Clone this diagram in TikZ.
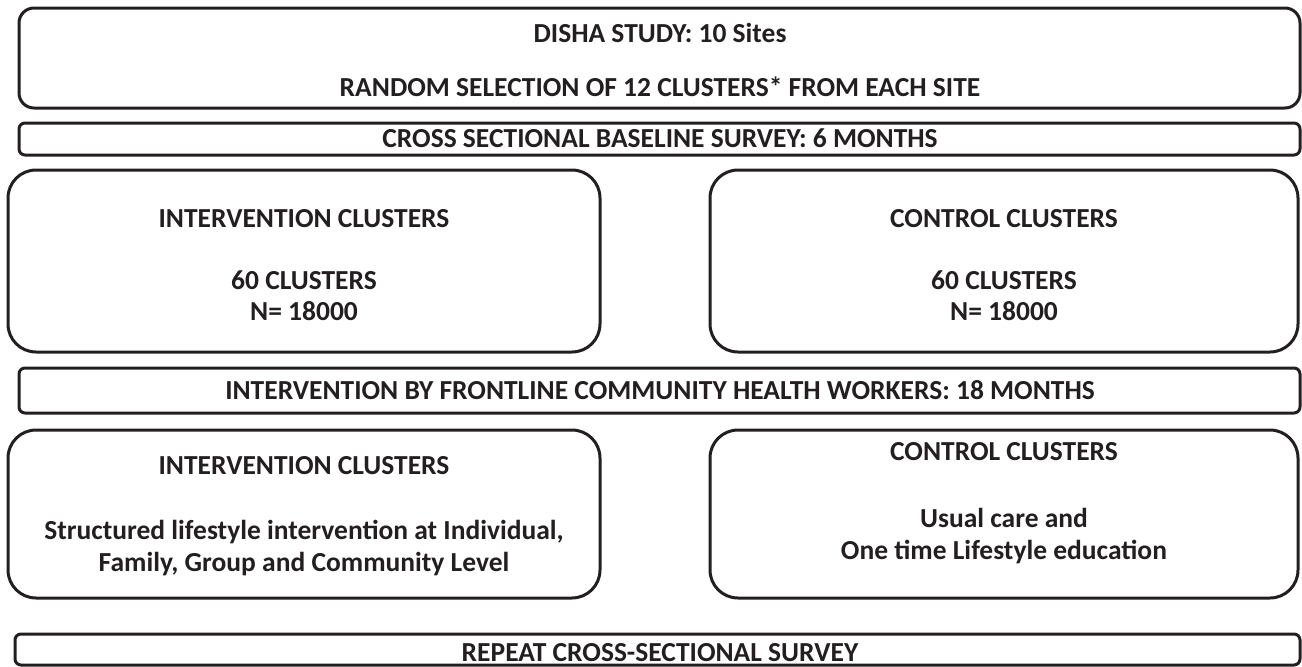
\documentclass[tikz,border=0pt]{standalone}
\usepackage{fontspec}
\setmainfont{Carlito}
\definecolor{ink}{HTML}{231F20}
\begin{document}
\begin{tikzpicture}[x=1pt,y=-1pt,
  box/.style={draw=ink, line width=3pt, rounded corners=#1, inner sep=0pt},
  lbl/.style={text=ink, inner sep=0pt, anchor=base, font=\bfseries\fontsize{27.5}{32}\selectfont}]
\useasboundingbox (0,0) rectangle (1302,667);
% boxes
\node[box=15pt, minimum width=1281pt, minimum height=100pt] (b1) at (659.5,58) {};
\node[box=6pt, minimum width=1281pt, minimum height=32pt] (b2) at (659.5,139) {};
\node[box=28pt, minimum width=592pt, minimum height=182pt] (b3l) at (304,261) {};
\node[box=28pt, minimum width=588pt, minimum height=182pt] (b3r) at (1004,261) {};
\node[box=6pt, minimum width=1281pt, minimum height=45pt] (b4) at (659.5,390.5) {};
\node[box=28pt, minimum width=592pt, minimum height=168pt] (b5l) at (304,514) {};
\node[box=28pt, minimum width=588pt, minimum height=168pt] (b5r) at (1004,514) {};
\node[box=6pt, minimum width=1285pt, minimum height=31pt] (b6) at (657.5,649.5) {};
% texts
\node[lbl] (t1) at (660,42) {DISHA STUDY: 10 Sites};
\node[lbl] (t2) at (660,96) {RANDOM SELECTION OF 12 CLUSTERS* FROM EACH SITE};
\node[lbl] (t3) at (660,147) {CROSS SECTIONAL BASELINE SURVEY: 6 MONTHS};
\node[lbl] (t4) at (304,227) {INTERVENTION CLUSTERS};
\node[lbl] (t5) at (304,289) {60 CLUSTERS};
\node[lbl] (t5b) at (304,320) {N= 18000};
\node[lbl] (t6) at (1004,227) {CONTROL CLUSTERS};
\node[lbl] (t7) at (1004,289) {60 CLUSTERS};
\node[lbl] (t7b) at (1004,320) {N= 18000};
\node[lbl] (t8) at (660,399) {INTERVENTION BY FRONTLINE COMMUNITY HEALTH WORKERS: 18 MONTHS};
\node[lbl] (t9) at (304,474) {INTERVENTION CLUSTERS};
\node[lbl] (t10) at (304,539) {Structured lifestyle intervention at Individual,};
\node[lbl] (t10b) at (304,571) {Family, Group and Community Level};
\node[lbl] (t11) at (1004,460) {CONTROL CLUSTERS};
\node[lbl] (t12) at (1004,527) {Usual care and};
\node[lbl] (t12b) at (1004,559) {One time Lifestyle education};
\node[lbl] (t13) at (660,661) {REPEAT CROSS-SECTIONAL SURVEY};
\end{tikzpicture}
\end{document}
